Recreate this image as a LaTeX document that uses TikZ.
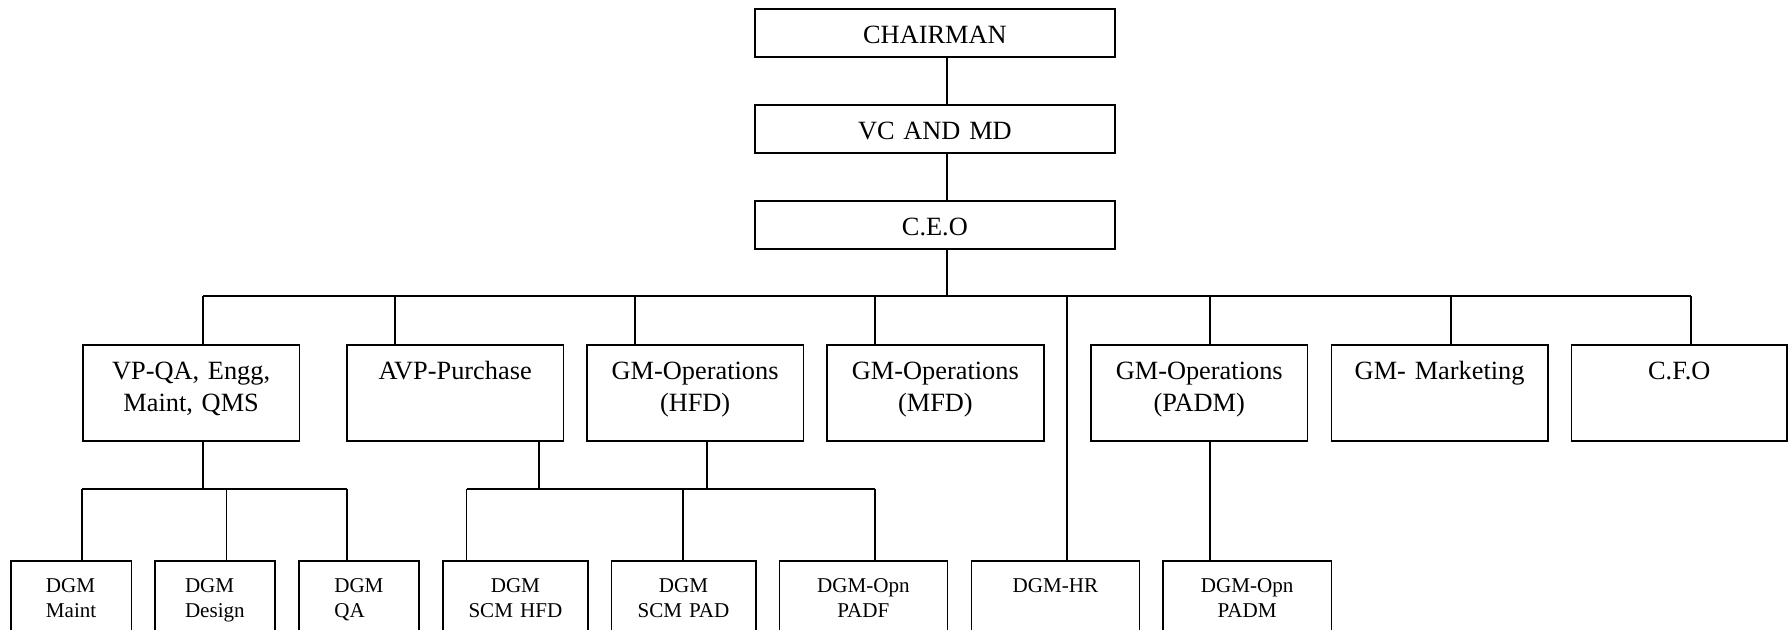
\documentclass[tikz,border=0pt]{standalone}
\usepackage{fontspec}
\setmainfont{Liberation Serif}
\usetikzlibrary{positioning}
\newlength{\unitpx}
\setlength{\unitpx}{0.02cm}
\newcommand{\leftlines}[1]{\begin{tabular}[t]{@{}l@{}}#1\end{tabular}}

\begin{document}
\begin{tikzpicture}
    [x=0.02cm, y=-0.02cm, line width=1pt,
    box/.style={draw, line width=1pt, inner sep=0pt, anchor=north west, align=center},
    headbox/.style={box, text width=360\unitpx, text height=35\unitpx, text depth=13\unitpx, font=\fontsize{15}{18}\selectfont},
    unitbox/.style={box, text width=#1\unitpx, text height=35\unitpx, text depth=61\unitpx, font=\fontsize{15}{18}\selectfont},
    deskbox/.style={box, text width=#1\unitpx, text height=32\unitpx, text depth=100\unitpx, font=\fontsize{12}{13.8}\selectfont}]
    \useasboundingbox (0,0) rectangle (1790,629);
    \node[headbox] (chair) at (754,8)   {CHAIRMAN};
    \node[headbox] (vc)    at (754,104) {VC AND MD};
    \node[headbox] (ceo)   at (754,200) {C.E.O};
    \node[unitbox=216.5] (vp)   at (82,344)     {VP-QA, Engg,\\Maint, QMS};
    \node[unitbox=216.5] (avp)  at (346,344)    {AVP-Purchase};
    \node[unitbox=216.5] (hfd)  at (586,344)    {GM-Operations\\(HFD)};
    \node[unitbox=217]   (mfd)  at (826,344)    {GM-Operations\\(MFD)};
    \node[unitbox=216.7] (padm) at (1090,344)   {GM-Operations\\(PADM)};
    \node[unitbox=216.5] (mkt)  at (1330.5,344) {GM- Marketing};
    \node[unitbox=215.3] (cfo)  at (1570.7,344) {C.F.O};
    \node[deskbox=120.5] (maint)   at (10,560)    {\leftlines{DGM\\Maint}};
    \node[deskbox=120]   (design)  at (154,560)   {\leftlines{DGM\\Design}};
    \node[deskbox=120]   (qa)      at (298,560)   {\leftlines{DGM\\QA}};
    \node[deskbox=145]   (scmhfd)  at (442,560)   {DGM\\SCM HFD};
    \node[deskbox=144.3] (scmpad)  at (610.5,560) {DGM\\SCM PAD};
    \node[deskbox=168]   (padf)    at (778.5,560) {DGM-Opn\\PADF};
    \node[deskbox=168]   (hr)      at (970.6,560) {DGM-HR};
    \node[deskbox=168.5] (opnpadm) at (1162,560)  {DGM-Opn\\PADM};

    \coordinate (spine) at (947,296);
    \draw (chair.south -| spine) -- (vc.north -| spine);
    \draw (vc.south -| spine) -- (ceo.north -| spine);
    \draw (ceo.south -| spine) -- (spine);
    \foreach \n/\x in {vp/203, avp/395, hfd/635, mfd/875, hr/1067, padm/1210, mkt/1451, cfo/1691}
        \draw (\x,296) coordinate (up-\n) -- (\n.north -| up-\n);
    \draw (up-vp) -- (up-cfo);

    \foreach \n/\x in {vp/203, avp/539, hfd/707}
        \draw (\x,489) coordinate (dn-\n) -- (\n.south -| dn-\n);
    \foreach \n/\x in {maint/82, design/226.5, qa/347, scmhfd/466.5, scmpad/683, padf/875}
        \draw (\x,489) coordinate (dn-\n) -- (\n.north -| dn-\n);
    \draw (dn-maint) -- (dn-qa);
    \draw (dn-scmhfd) -- (dn-padf);
    \draw (padm.south -| up-padm) -- (opnpadm.north -| up-padm);
\end{tikzpicture}
\end{document}
